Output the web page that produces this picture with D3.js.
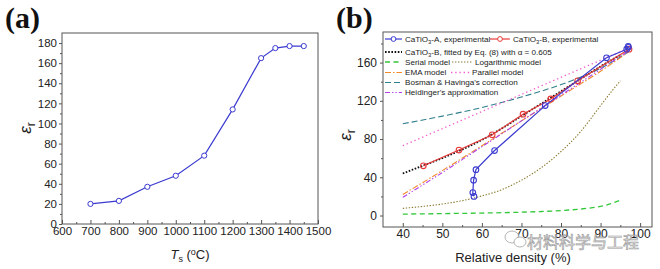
<!DOCTYPE html>
<html>
<head>
<meta charset="utf-8">
<script src="https://cdn.jsdelivr.net/npm/d3@7"></script>
<style>
  body { margin: 0; background: #fff; }
  svg { display: block; font-family: "Liberation Sans", Arial, sans-serif; }
</style>
</head>
<body>
<svg id="chart" width="660" height="269"></svg>
<script>
// panel (a): permittivity vs sintering temperature
const tsTemps = [700, 800, 900, 1000, 1100, 1200, 1300, 1350, 1400, 1450];
const tsEps = [20, 23, 37, 48, 68, 114, 165, 175, 177, 177];
const aXTicks = [600, 700, 800, 900, 1000, 1100, 1200, 1300, 1400, 1500];
const aYTicks = [0, 20, 40, 60, 80, 100, 120, 140, 160, 180];

// panel (b): permittivity vs relative density
const aDensity = [58.0, 57.7, 57.9, 58.5, 63.2, 76.0, 91.5, 96.6, 97.0, 97.0];
const aEps = [20, 24, 37, 48, 68, 115, 165, 174, 177, 176];
const bDensity = [45.2, 54.2, 62.6, 70.4, 77.4, 84.2, 97.2];
const bEps = [52, 68.5, 84.5, 106, 122, 141, 174];

const fitX = [40, 45, 50, 55, 60, 65, 70, 75, 80, 85, 90, 95];
const fitY = [44, 52, 60, 69, 79, 91, 104, 117, 130, 143, 156, 168];
const serialX = [40, 50, 60, 70, 75, 80, 85, 88, 91, 93, 95];
const serialY = [1.5, 2, 2.6, 3.5, 4.2, 5.2, 6.8, 8.3, 10.5, 13, 16];
const logX = [40, 45, 50, 55, 60, 65, 70, 75, 80, 85, 90, 93, 95];
const logY = [7.5, 9.5, 12, 15.5, 20.5, 27, 37, 50, 67, 88, 115, 131, 141];
const emaX = [40, 50, 60, 70, 80, 90, 97];
const emaY = [22, 47, 73, 99, 125, 151, 171];
const parX = [40, 97];
const parY = [73, 175];
const bosX = [40, 50, 60, 70, 80, 90, 97];
const bosY = [96, 104, 113, 124, 137, 154, 171];
const heiX = [40, 50, 60, 70, 80, 90, 97];
const heiY = [19, 45, 72, 99, 126, 153, 172];
const bXTicks = [40, 50, 60, 70, 80, 90, 100];
const bYTicks = [0, 40, 80, 120, 160];

const svg = d3.select("#chart");
const zip = (xs, ys) => xs.map((x, i) => [x, ys[i]]);

// ---------- panel (a) ----------
{
  const x = d3.scaleLinear().domain([600, 1500]).range([62, 318]);
  const y = d3.scaleLinear().domain([0, 190]).range([224, 33]);
  const g = svg.append("g");

  g.append("rect").attr("x", 62).attr("y", 33).attr("width", 256).attr("height", 191)
    .attr("fill", "none").attr("stroke", "#555").attr("stroke-width", 1);

  const xa = g.append("g").attr("transform", "translate(0,224)")
    .call(d3.axisBottom(x).tickValues(aXTicks).tickSize(-4).tickPadding(6).tickFormat(d3.format("d")));
  g.append("g").attr("transform", "translate(0,224)")
    .call(d3.axisBottom(x).tickValues(d3.range(650, 1500, 100)).tickSize(-2).tickFormat(""));
  g.append("g").attr("transform", "translate(62,0)")
    .call(d3.axisLeft(y).tickValues(aYTicks).tickSize(3).tickPadding(2));
  g.append("g").attr("transform", "translate(62,0)")
    .call(d3.axisLeft(y).tickValues(d3.range(10, 190, 20)).tickSize(2).tickFormat(""));
  g.selectAll(".domain").remove();
  g.selectAll(".tick line").attr("stroke", "#555");
  g.selectAll(".tick text").attr("font-size", 11.5).attr("fill", "#222")
    .attr("font-family", "Liberation Sans, Arial, sans-serif");
  xa.selectAll(".tick text").attr("dy", "0.45em");

  const line = d3.line().x(d => x(d[0])).y(d => y(d[1]));
  const pts = zip(tsTemps, tsEps);
  g.append("path").attr("d", line(pts)).attr("fill", "none")
    .attr("stroke", "#3b3bd0").attr("stroke-width", 1.2);
  g.selectAll("circle.pa").data(pts).join("circle").attr("class", "pa")
    .attr("cx", d => x(d[0])).attr("cy", d => y(d[1])).attr("r", 2.6)
    .attr("fill", "#fff").attr("stroke", "#3b3bd0").attr("stroke-width", 1);

  g.append("text").attr("x", 5).attr("y", 28)
    .attr("font-family", "Liberation Serif, Times New Roman, serif")
    .attr("font-weight", "bold").attr("font-size", 30).attr("fill", "#111").text("(a)");

  const yl = g.append("text").attr("transform", "translate(31,128) rotate(-90)")
    .attr("text-anchor", "middle").attr("font-size", 17).attr("fill", "#222");
  yl.append("tspan").attr("font-style", "italic").text("ε");
  yl.append("tspan").attr("font-size", 12).attr("dy", 4).text("r");

  const xl = g.append("text").attr("x", 190).attr("y", 259)
    .attr("text-anchor", "middle").attr("font-size", 13).attr("fill", "#222");
  xl.append("tspan").attr("font-style", "italic").text("T");
  xl.append("tspan").attr("font-size", 9).attr("dy", 3).text("s");
  xl.append("tspan").attr("dy", -3).text(" (");
  xl.append("tspan").attr("font-size", 9).attr("dy", -4).text("o");
  xl.append("tspan").attr("dy", 4).text("C)");
}

// ---------- panel (b) ----------
{
  const x = d3.scaleLinear().domain([35, 103]).range([383, 652]);
  const y = d3.scaleLinear().domain([-12, 192]).range([227, 32]);
  const g = svg.append("g");

  g.append("rect").attr("x", 383).attr("y", 32).attr("width", 269).attr("height", 195)
    .attr("fill", "none").attr("stroke", "#555").attr("stroke-width", 1);

  const xa = g.append("g").attr("transform", "translate(0,227)")
    .call(d3.axisBottom(x).tickValues(bXTicks).tickSize(-4).tickPadding(6));
  g.append("g").attr("transform", "translate(0,227)")
    .call(d3.axisBottom(x).tickValues(d3.range(45, 100, 10)).tickSize(-2).tickFormat(""));
  g.append("g").attr("transform", "translate(383,0)")
    .call(d3.axisLeft(y).tickValues(bYTicks).tickSize(3).tickPadding(3));
  g.append("g").attr("transform", "translate(383,0)")
    .call(d3.axisLeft(y).tickValues(d3.range(20, 190, 40)).tickSize(2).tickFormat(""));
  g.selectAll(".domain").remove();
  g.selectAll(".tick line").attr("stroke", "#555");
  g.selectAll(".tick text").attr("font-size", 12).attr("fill", "#222")
    .attr("font-family", "Liberation Sans, Arial, sans-serif");
  xa.selectAll(".tick text").attr("dy", "0.45em");

  const line = d3.line().x(d => x(d[0])).y(d => y(d[1]));
  const smooth = d3.line().x(d => x(d[0])).y(d => y(d[1])).curve(d3.curveMonotoneX);

  const models = [
    { xs: serialX, ys: serialY, color: "#33c83a", dash: "5,3.5", w: 1.3 },
    { xs: logX, ys: logY, color: "#8a7a30", dash: "1.4,1.6", w: 1.1 },
    { xs: bosX, ys: bosY, color: "#2f7f8c", dash: "6,3", w: 1.1 },
    { xs: parX, ys: parY, color: "#f060d0", dash: "1.4,2.8", w: 1.3 },
    { xs: emaX, ys: emaY, color: "#f08a2a", dash: "6,2,1.5,2", w: 1.1 },
    { xs: heiX, ys: heiY, color: "#b040e8", dash: "5,2,1.4,2,1.4,2", w: 1.1 },
    { xs: fitX, ys: fitY, color: "#111", dash: "1.6,1.6", w: 1.8 }
  ];
  models.forEach(m => {
    g.append("path").attr("d", smooth(zip(m.xs, m.ys))).attr("fill", "none")
      .attr("stroke", m.color).attr("stroke-width", m.w).attr("stroke-dasharray", m.dash);
  });

  const series = [
    { xs: bDensity, ys: bEps, color: "#e83a3a" },
    { xs: aDensity, ys: aEps, color: "#3b3bd0" }
  ];
  series.forEach(s => {
    const pts = zip(s.xs, s.ys);
    g.append("path").attr("d", line(pts)).attr("fill", "none")
      .attr("stroke", s.color).attr("stroke-width", 1.2);
    g.selectAll(null).data(pts).join("circle")
      .attr("cx", d => x(d[0])).attr("cy", d => y(d[1])).attr("r", 2.8)
      .attr("fill", "none").attr("stroke", s.color).attr("stroke-width", 1.1);
  });

  // legend
  const leg = g.append("g").attr("font-size", 8.1).attr("fill", "#222");
  const entries = [
    { x0: 385, x1: 402, y: 39, color: "#3b3bd0", dash: null, w: 1.2, marker: true, tx: 405, label: "CaTiO|3|-A, experimental" },
    { x0: 490, x1: 510, y: 39, color: "#e83a3a", dash: null, w: 1.2, marker: true, tx: 513, label: "CaTiO|3|-B, experimental" },
    { x0: 385, x1: 402, y: 52, color: "#111", dash: "1.6,1.6", w: 1.8, tx: 405, label: "CaTiO|3|-B, fitted by Eq. (8) with α = 0.605" },
    { x0: 385, x1: 402, y: 62, color: "#33c83a", dash: "5,3.5", w: 1.3, tx: 405, label: "Serial model" },
    { x0: 452, x1: 472, y: 62, color: "#8a7a30", dash: "1.4,1.6", w: 1.1, tx: 475, label: "Logarithmic model" },
    { x0: 385, x1: 402, y: 72.5, color: "#f08a2a", dash: "6,2,1.5,2", w: 1.1, tx: 405, label: "EMA model" },
    { x0: 451, x1: 470, y: 72.5, color: "#f060d0", dash: "1.4,2.8", w: 1.3, tx: 472, label: "Parallel model" },
    { x0: 385, x1: 402, y: 82.5, color: "#2f7f8c", dash: "6,3", w: 1.1, tx: 405, label: "Bosman & Havinga's correction" },
    { x0: 385, x1: 402, y: 92.5, color: "#b040e8", dash: "5,2,1.4,2,1.4,2", w: 1.1, tx: 405, label: "Heidinger's approximation" }
  ];
  entries.forEach(e => {
    leg.append("line").attr("x1", e.x0).attr("x2", e.x1).attr("y1", e.y).attr("y2", e.y)
      .attr("stroke", e.color).attr("stroke-width", e.w).attr("stroke-dasharray", e.dash);
    if (e.marker) {
      leg.append("circle").attr("cx", (e.x0 + e.x1) / 2).attr("cy", e.y).attr("r", 2.4)
        .attr("fill", "#fff").attr("stroke", e.color).attr("stroke-width", 1);
    }
    const t = leg.append("text").attr("x", e.tx).attr("y", e.y + 2.8);
    const parts = e.label.split("|");
    parts.forEach((p, i) => {
      if (i === 1) {
        t.append("tspan").attr("font-size", 5.8).attr("dy", 2).text(p);
      } else if (i === 2) {
        t.append("tspan").attr("dy", -2).text(p);
      } else {
        t.append("tspan").text(p);
      }
    });
  });

  g.append("text").attr("x", 336).attr("y", 28)
    .attr("font-family", "Liberation Serif, Times New Roman, serif")
    .attr("font-weight", "bold").attr("font-size", 30).attr("fill", "#111").text("(b)");

  const yl = g.append("text").attr("transform", "translate(351,135) rotate(-90)")
    .attr("text-anchor", "middle").attr("font-size", 17).attr("fill", "#222");
  yl.append("tspan").attr("font-style", "italic").text("ε");
  yl.append("tspan").attr("font-size", 12).attr("dy", 4).text("r");

  g.append("text").attr("x", 513).attr("y", 262).attr("text-anchor", "middle")
    .attr("font-size", 13).attr("fill", "#222").text("Relative density (%)");

  // watermark
  const wm = g.append("g").attr("opacity", 0.85);
  wm.append("ellipse").attr("cx", 512).attr("cy", 237).attr("rx", 7).attr("ry", 6)
    .attr("fill", "#fff").attr("stroke", "#aaa").attr("stroke-width", 1);
  wm.append("ellipse").attr("cx", 520).attr("cy", 242).attr("rx", 6).attr("ry", 5)
    .attr("fill", "#fff").attr("stroke", "#aaa").attr("stroke-width", 1);
  wm.append("text").attr("x", 527).attr("y", 248)
    .attr("font-family", "Noto Sans CJK SC, sans-serif").attr("font-size", 16)
    .attr("fill", "#e4e4e4").attr("stroke", "#8a8a8a").attr("stroke-width", 0.6)
    .text("材料科学与工程");
}
</script>
</body>
</html>
